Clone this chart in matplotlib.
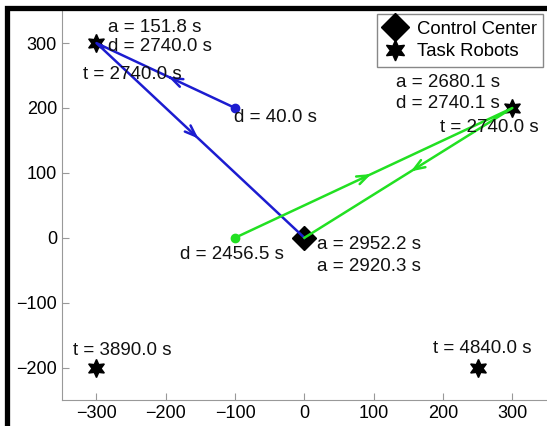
import matplotlib
matplotlib.use("Agg")
import matplotlib.pyplot as plt
from matplotlib.patches import Rectangle

plt.rcParams['font.family'] = ['Liberation Sans', 'DejaVu Sans']

# paths of the two robots: start dot -> task robot -> control center
blue_path = [(-100, 200), (-300, 300), (0, 0)]
green_path = [(-100, 0), (300, 200), (0, 0)]
center = (0, 0)
robots_x = [-300, 300, -300, 250]
robots_y = [300, 200, -200, -200]

labels = [
    ("a = 151.8 s", -283, 324),
    ("d = 2740.0 s", -283, 295),
    ("t = 2740.0 s", -320, 252),
    ("d = 40.0 s", -102, 185),
    ("a = 2680.1 s", 132, 239),
    ("d = 2740.1 s", 132, 207),
    ("t = 2740.0 s", 196, 170),
    ("d = 2456.5 s", -180, -26),
    ("a = 2952.2 s", 18, -11),
    ("a = 2920.3 s", 18, -45),
    ("t = 3890.0 s", -334, -173),
    ("t = 4840.0 s", 186, -171),
]

BLUE = "#1c1cd0"
GREEN = "#22e022"

fig = plt.figure(figsize=(5.47, 4.26), dpi=100)
ax = fig.add_axes([0.113, 0.061, 0.887, 0.914])

dm = ax.plot(*center, "D", color="k", ms=12, zorder=3, label="Control Center")[0]
st = ax.plot(robots_x, robots_y, color="k", ms=13, ls="none", zorder=3,
             label="Task Robots", marker=(6, 1, 0))[0]

for path, c in [(blue_path, BLUE), (green_path, GREEN)]:
    xs = [p[0] for p in path]; ys = [p[1] for p in path]
    ax.plot(xs, ys, color=c, lw=1.8, zorder=4)
    ax.plot(xs[0], ys[0], "o", color=c, ms=6, zorder=4)
    for (x0, y0), (x1, y1) in zip(path[:-1], path[1:]):
        mx, my = (x0 + x1) / 2, (y0 + y1) / 2
        ax.annotate("", xy=(mx, my), xytext=(mx - (x1 - x0) * 0.05, my - (y1 - y0) * 0.05),
                    arrowprops=dict(arrowstyle="->,head_length=0.8,head_width=0.3",
                                    color=c, lw=1.8), zorder=4)

for s, x, y in labels:
    ax.text(x, y, s, fontsize=13.5, va="center", ha="left", color="#111111", zorder=5)

ax.set_xlim(-350, 350)
ax.set_ylim(-250, 350)
ax.set_xticks(range(-300, 301, 100))
ax.set_yticks(range(-200, 301, 100))
ax.set_xticklabels([str(v).replace("-", "\u2212") for v in range(-300, 301, 100)])
ax.set_yticklabels([str(v).replace("-", "\u2212") for v in range(-200, 301, 100)])
for side in ["top", "right"]:
    ax.spines[side].set_visible(False)
for side in ["left", "bottom"]:
    ax.spines[side].set_color("#999999")
ax.tick_params(direction="in", color="#999999", labelsize=13, length=5)

leg = ax.legend(handles=[dm, st], loc="upper right", fontsize=13.3, fancybox=False,
                borderaxespad=0.2, handletextpad=0.6, borderpad=0.35, labelspacing=0.3,
                handlelength=1.2, framealpha=1, markerscale=1.15)
leg.get_frame().set_edgecolor("#888888")
leg.get_frame().set_linewidth(1)

# thick frame around the figure (left and top edges visible)
fig.patches.append(Rectangle((0.0135, -0.2), 1.2, 0.2 + 0.982, transform=fig.transFigure,
                             fill=False, ec="k", lw=3.8, zorder=10))

fig.savefig("out.png", dpi=100)
